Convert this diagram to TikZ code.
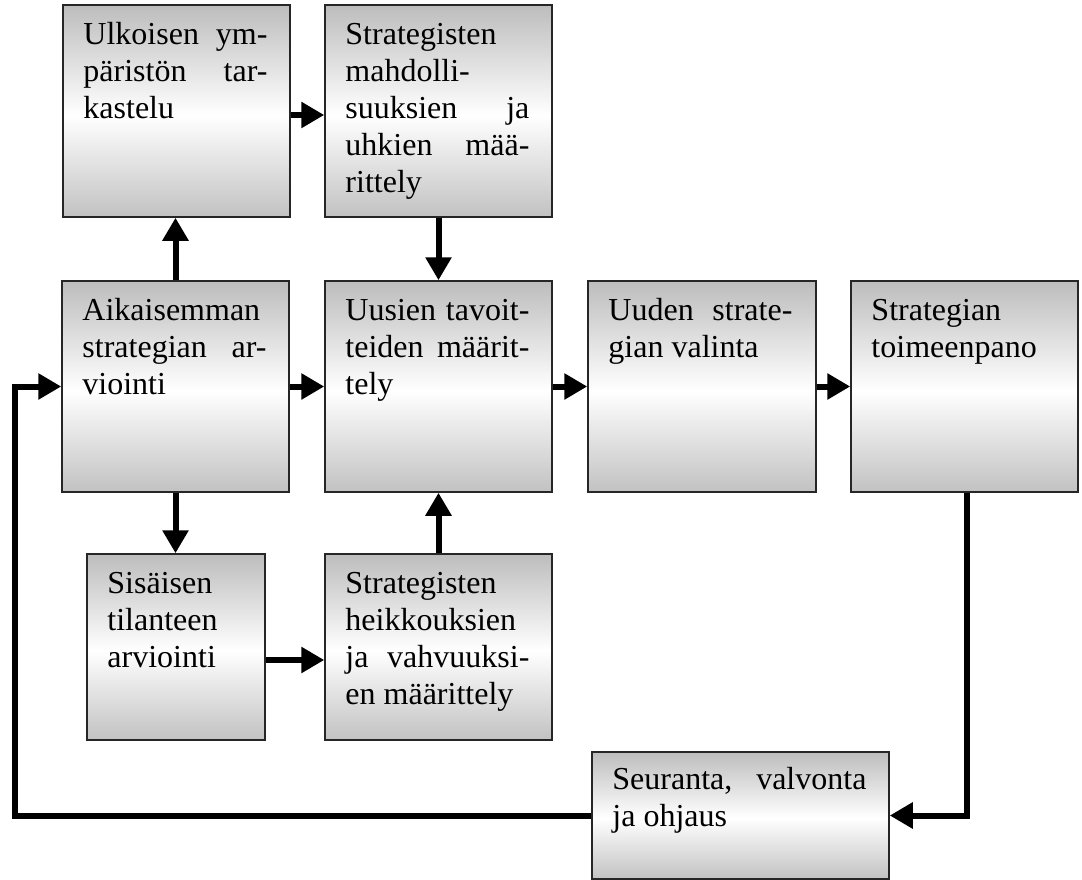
\documentclass[tikz,border=0pt]{standalone}
\usepackage{fontspec}
\setmainfont{Liberation Serif}
\usetikzlibrary{arrows.meta}
\pgfdeclareverticalshading{boxsh}{100bp}{color(0bp)=(black!24); color(25bp)=(black!24); color(49bp)=(white); color(75bp)=(black!26); color(100bp)=(black!26)}
\newcommand\jl[2]{\makebox[#1][s]{#2}}
\tikzset{
  box/.style={draw=black!85, line width=1.5pt, shading=boxsh, rectangle, inner sep=0pt},
  txt/.style={anchor=base west, inner sep=0pt, font=\fontsize{32}{37}\selectfont},
  arr/.style={line width=6pt, line join=miter, -{Triangle[length=23pt,width=25pt]}},
}
\begin{document}
\begin{tikzpicture}[x=1pt,y=-1pt]
\useasboundingbox (0,0) rectangle (1082,880);
% boxes
\node[box, minimum width=227pt, minimum height=212pt] (s1) at (176.5,111) {};
\node[box, minimum width=227pt, minimum height=212pt] (s2) at (438.5,111) {};
\node[box, minimum width=227pt, minimum height=211pt] (s3) at (175.5,386.5) {};
\node[box, minimum width=227pt, minimum height=211pt] (s4) at (438.5,386.5) {};
\node[box, minimum width=228pt, minimum height=211pt] (s5) at (702,386.5) {};
\node[box, minimum width=227pt, minimum height=211pt] (s6) at (964.5,386.5) {};
\node[box, minimum width=178pt, minimum height=186pt] (s7) at (176,647) {};
\node[box, minimum width=227pt, minimum height=186pt] (s8) at (438.5,647) {};
\node[box, minimum width=297pt, minimum height=127pt] (s9) at (740.5,815.5) {};
% texts
\node[txt] (t1) at ([xshift=21pt,yshift=-40pt]s1.north west) {\parbox[t]{184pt}{\fontsize{32}{37}\selectfont\jl{184pt}{Ulkoisen ym-}\\\jl{184pt}{päristön tar-}\\kastelu}};
\node[txt] (t2) at ([xshift=21pt,yshift=-40pt]s2.north west) {\parbox[t]{184pt}{\fontsize{32}{37}\selectfont Strategisten\\mahdolli-\\\jl{184pt}{suuksien ja}\\\jl{184pt}{uhkien mää-}\\rittely}};
\node[txt] (t3) at ([xshift=21pt,yshift=-40pt]s3.north west) {\parbox[t]{184pt}{\fontsize{32}{37}\selectfont Aikaisemman\\\jl{184pt}{strategian ar-}\\viointi}};
\node[txt] (t4) at ([xshift=21pt,yshift=-40pt]s4.north west) {\parbox[t]{184pt}{\fontsize{32}{37}\selectfont\jl{184pt}{Uusien tavoit-}\\\jl{184pt}{teiden määrit-}\\tely}};
\node[txt] (t5) at ([xshift=21pt,yshift=-40pt]s5.north west) {\parbox[t]{184pt}{\fontsize{32}{37}\selectfont\jl{184pt}{Uuden strate-}\\gian valinta}};
\node[txt] (t6) at ([xshift=21pt,yshift=-40pt]s6.north west) {\parbox[t]{184pt}{\fontsize{32}{37}\selectfont Strategian\\toimeenpano}};
\node[txt] (t7) at ([xshift=21pt,yshift=-40pt]s7.north west) {\parbox[t]{135pt}{\fontsize{32}{37}\selectfont Sisäisen\\tilanteen\\arviointi}};
\node[txt] (t8) at ([xshift=21pt,yshift=-40pt]s8.north west) {\parbox[t]{184pt}{\fontsize{32}{37}\selectfont Strategisten\\heikkouksien\\\jl{184pt}{ja vahvuuksi-}\\en määrittely}};
\node[txt] (t9) at ([xshift=21pt,yshift=-38pt]s9.north west) {\parbox[t]{254pt}{\fontsize{32}{37}\selectfont\jl{254pt}{Seuranta, valvonta}\\ja ohjaus}};
% connectors
\draw[arr] ([yshift=-4pt]s1.east) -- ([yshift=-4pt]s1.east -| s2.west);
\draw[arr] (s3.north) -- (s3.north |- s1.south);
\draw[arr] (s2.south) -- (s4.north);
\draw[arr] (s3.east) -- (s4.west);
\draw[arr] (s4.east) -- (s5.west);
\draw[arr] (s5.east) -- (s6.west);
\draw[arr] (s3.south) -- (s3.south |- s7.north);
\draw[arr] ([yshift=-13pt]s7.east) -- ([yshift=-13pt]s7.east -| s8.west);
\draw[arr] (s8.north) -- (s4.south);
\draw[arr] ([xshift=2.5pt]s6.south) |- (s9.east);
\coordinate (c1) at (15,815.5);
\draw[arr] (s9.west) -- (c1) |- (s3.west);
\end{tikzpicture}
\end{document}
